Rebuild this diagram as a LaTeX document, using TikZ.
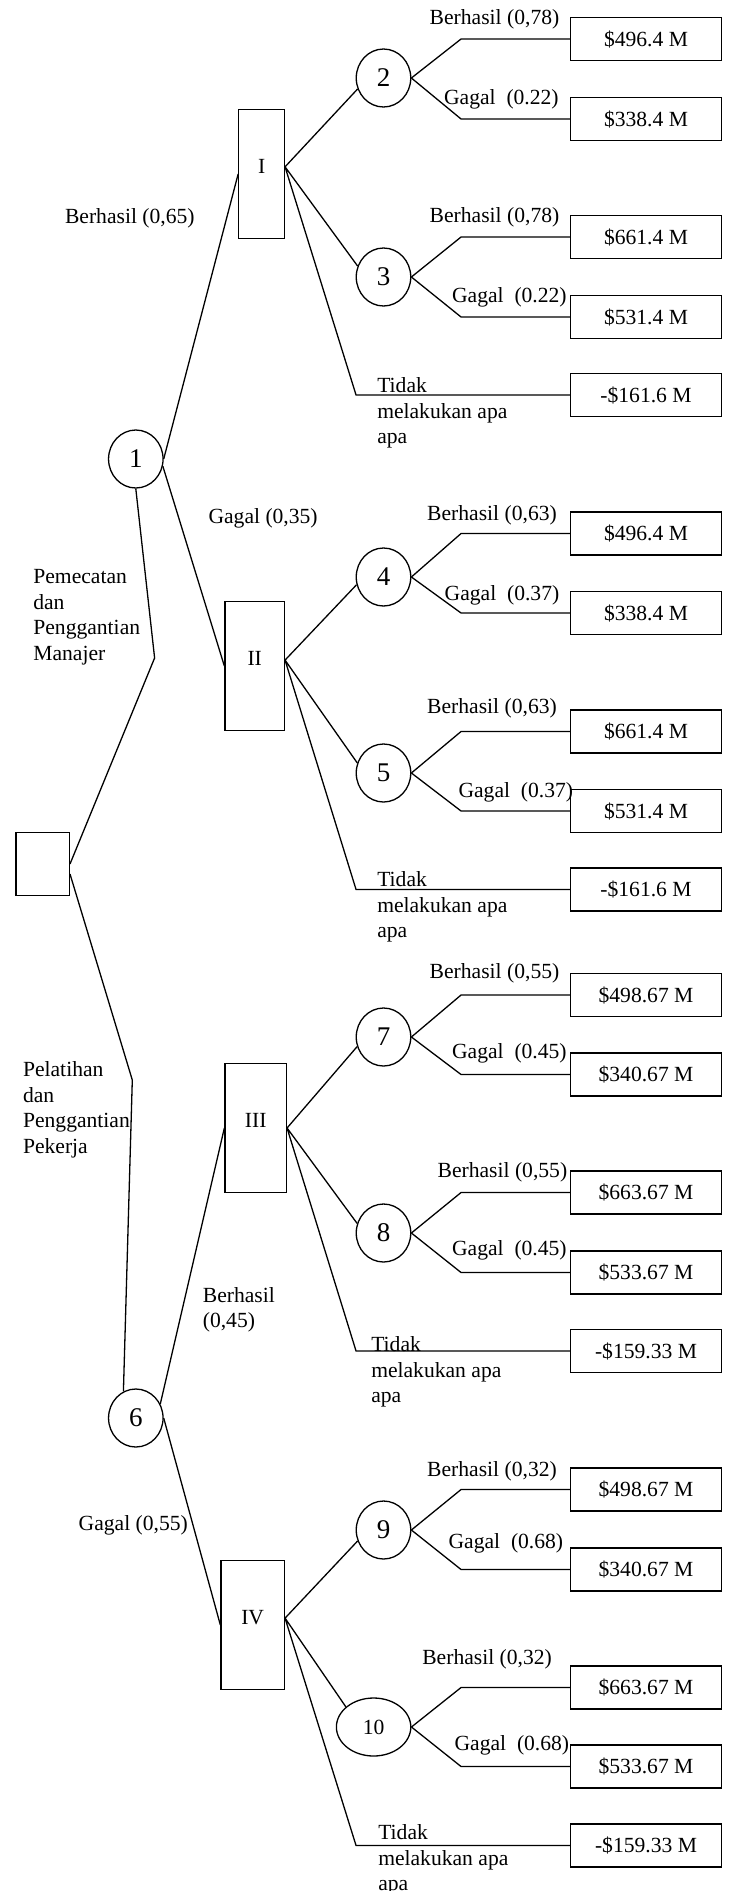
\documentclass[tikz,border=0pt]{standalone}
\usepackage{fontspec}
\setmainfont{Liberation Serif}
\usetikzlibrary{shapes.geometric}
\begin{document}
\begin{tikzpicture}[x=0.5pt, y=-0.5pt, line width=0.65pt, font=\fontsize{10.8}{12.75}\selectfont,
    chance/.style={draw, ellipse, minimum width=27.25pt, minimum height=29pt, inner sep=0pt, font=\fontsize{13.5}{15}\selectfont},
    dec/.style={draw, minimum height=64.5pt, inner sep=0pt, text depth=8pt},
    payoff/.style={draw, minimum width=75.3pt, minimum height=21.5pt, inner sep=0pt},
    lbl/.style={inner sep=0pt},
    note/.style={inner sep=0pt, anchor=west, align=left}]
    \useasboundingbox (0,0) rectangle (733,1891);
    \node[draw, minimum width=26.75pt, minimum height=31.5pt] (root) at (42.6,864) {};
    \node[dec, minimum width=22.8pt] (I) at (261.6,174) {I}; \node[dec, minimum width=29.7pt] (II) at (254.7,666) {II};
    \node[dec, minimum width=30.7pt] (III) at (255.7,1128) {III}; \node[dec, minimum width=31.7pt] (IV) at (252.7,1625) {IV};
    \foreach \n/\x/\y in {1/135.8/459, 2/383.5/78, 3/383.5/277, 4/383.5/577, 5/383.5/773, 6/135.8/1418, 7/383.5/1037, 8/383.5/1233, 9/383.5/1530}
        \node[chance] (c\n) at (\x,\y) {\n};
    \node[chance, minimum width=37.2pt, font=\fontsize{10.8}{12.75}\selectfont] (c10) at (373.6,1727) {10};
    \foreach \n/\y/\v in {1/39/\$496.4 M, 2/119/\$338.4 M, 3/237/\$661.4 M, 4/317/\$531.4 M, 5/395/-\$161.6 M,
        6/533.5/\$496.4 M, 7/613/\$338.4 M, 8/731.5/\$661.4 M, 9/811/\$531.4 M, 10/889.5/-\$161.6 M,
        11/995/\$498.67 M, 12/1074.5/\$340.67 M, 13/1192.5/\$663.67 M, 14/1272.5/\$533.67 M, 15/1351/-\$159.33 M,
        16/1489.5/\$498.67 M, 17/1569.5/\$340.67 M, 18/1687.5/\$663.67 M, 19/1766.5/\$533.67 M, 20/1845.5/-\$159.33 M}
        \node[payoff] (r\n) at (646,\y) {\v};
    \coordinate (k1) at (154.6,658); \coordinate (k2) at (132.3,1080);
    \draw (root.east) -- (k1) -- (c1.south); \draw (root.-20) -- (k2) -- (c6.115);
    \draw (c1.east) -- (I.west) (c1.-15) -- (II.west); \draw (c6.30) -- (III.west) (c6.east) -- (IV.west);
    \foreach \d/\o/\a/\b/\t in {I/17/c2.203/c3.157/r5, II/11/c4.196/c5.159/r10, III/0/c7.200/c8.160/r15, IV/12/c9.203/c10.144/r20}
        \draw (\d.\o) -- (\a) (\d.\o) -- (\b) (\d.\o) -- ([xshift=-107pt]\t.west) -- (\t.west);
    \foreach \c/\a/\b in {2/1/2, 3/3/4, 4/6/7, 5/8/9, 7/11/12, 8/13/14, 9/16/17, 10/18/19}
        \draw (c\c.east) -- ([xshift=-54.5pt]r\a.west) -- (r\a.west) (c\c.east) -- ([xshift=-54.5pt]r\b.west) -- (r\b.west);
    \foreach \x/\y/\t [count=\i] in {494.5/19/{Berhasil (0,78)}, 501.4/99/{Gagal~~(0.22)}, 494.5/217/{Berhasil (0,78)}, 509.4/297/{Gagal~~(0.22)},
        129.8/218/{Berhasil (0,65)}, 263.1/518/{Gagal (0,35)}, 492/515/{Berhasil (0,63)}, 502/595/{Gagal~~(0.37)},
        492/708/{Berhasil (0,63)}, 515.8/792/{Gagal~~(0.37)}, 494.5/973/{Berhasil (0,55)}, 509.4/1053/{Gagal~~(0.45)},
        502.4/1172/{Berhasil (0,55)}, 509.4/1250/{Gagal~~(0.45)}, 133.3/1525/{Gagal (0,55)}, 492/1471/{Berhasil (0,32)},
        505.9/1543/{Gagal~~(0.68)}, 487.1/1659/{Berhasil (0,32)}, 511.9/1745/{Gagal~~(0.68)}}
        \node[lbl] (l\i) at (\x,\y) {\t};
    \node[note] (b45) at (202.2,1310) {Berhasil\\(0,45)};
    \node[note] (m1) at (32.7,617) {Pemecatan\\dan\\Penggantian\\Manajer};
    \node[note] (m2) at (22.4,1110) {Pelatihan\\dan\\Penggantian\\Pekerja};
    \foreach \x/\y [count=\i] in {376.6/413, 376.6/907, 370.6/1372, 377.6/1860}
        \node[note] (t\i) at (\x,\y) {Tidak\\melakukan apa\\apa};
\end{tikzpicture}
\end{document}
